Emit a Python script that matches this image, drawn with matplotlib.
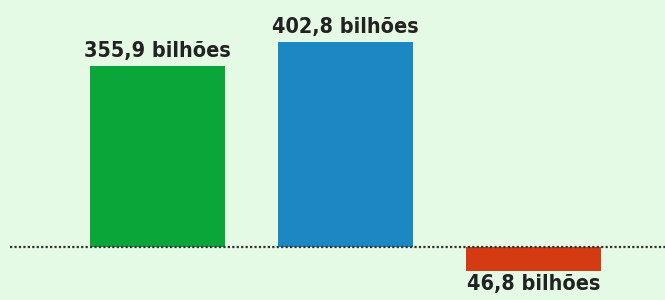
import matplotlib.pyplot as plt

# Values (bilhões)
categories = ['A', 'B', 'C']
values = [355.9, 402.8, -46.8]
labels = ['355,9 bilhões', '402,8 bilhões', '46,8 bilhões']
colors = ['#0ba639', '#1b87c3', '#d43b12']

bg = '#e5fae5'

fig = plt.figure(figsize=(6.65, 3.0), dpi=100)
fig.patch.set_facecolor(bg)
ax = fig.add_axes([0, 0, 1, 1])
ax.set_facecolor(bg)

x = list(range(len(categories)))
ax.bar(x, values, width=0.718, color=colors, zorder=2)

# dotted baseline
ax.axhline(0, xmin=0.015, xmax=1, color='#333333', linestyle=(0, (1, 1)),
           linewidth=1.6, zorder=3)

for xi, v, lab in zip(x, values, labels):
    if v >= 0:
        ax.text(xi, v + 9, lab, ha='center', va='bottom', fontsize=15.5,
                fontweight='bold', color='#222222', family='DejaVu Sans',
                fontstretch='condensed')
    else:
        ax.text(xi, v - 7, lab, ha='center', va='top', fontsize=15.5,
                fontweight='bold', color='#222222', family='DejaVu Sans',
                fontstretch='condensed')

ax.set_xlim(-0.838, 2.699)
ax.set_ylim(-104.1, 485.3)
ax.axis('off')

fig.savefig('out.png', dpi=100, facecolor=bg)
